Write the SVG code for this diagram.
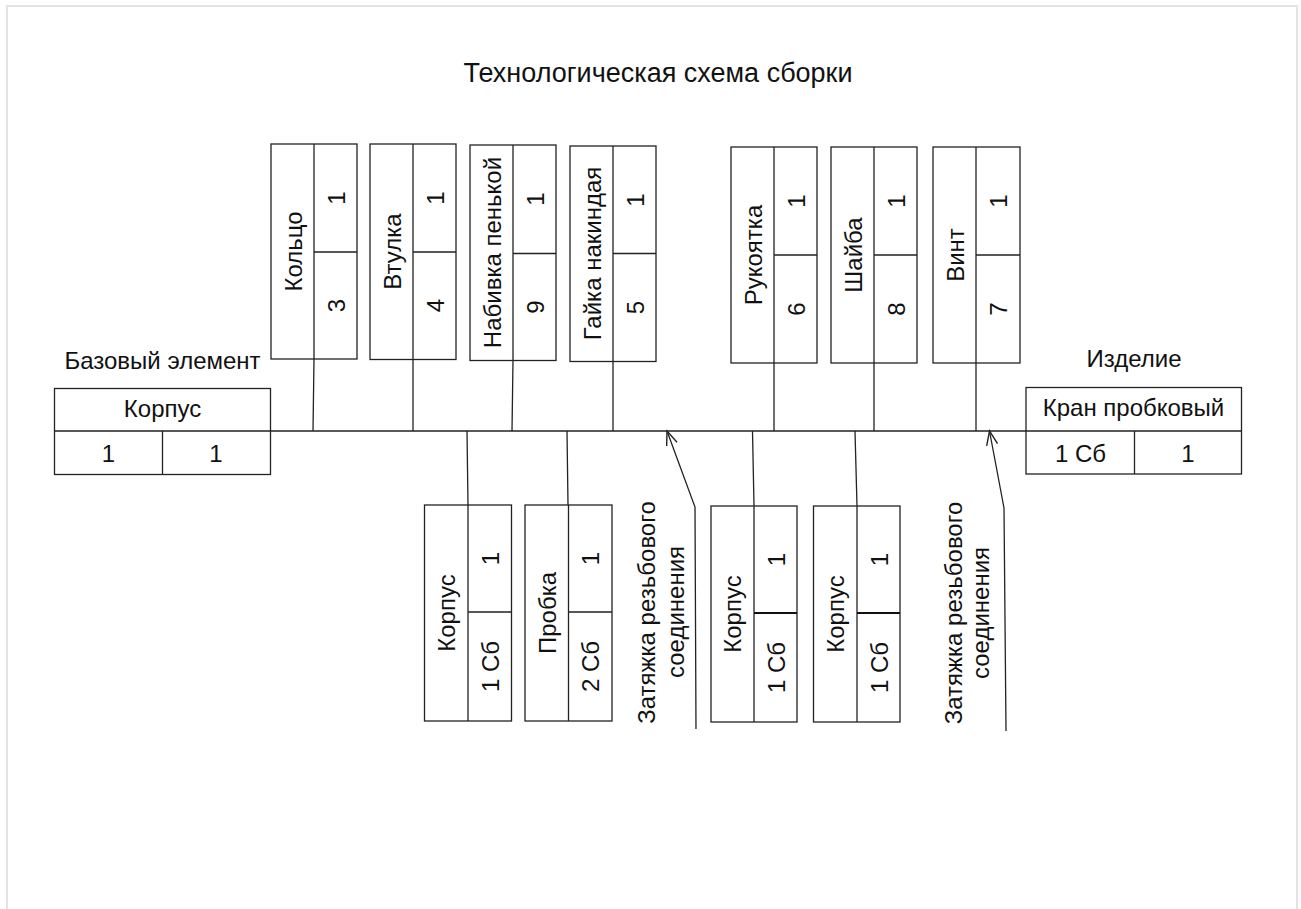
<svg xmlns="http://www.w3.org/2000/svg" width="1301" height="909" viewBox="0 0 1301 909">
<style>
.ln{stroke:#222;stroke-width:1.3;fill:none}
.thk{stroke:#111;stroke-width:2;fill:none}
.bx{stroke:#222;stroke-width:1.3;fill:#fff}
text{font-family:"Liberation Sans",Arial,sans-serif;font-size:24px;fill:#111}
.c{text-anchor:middle}
.title{font-size:27px}
</style>
<defs>
<marker id="open" markerWidth="20" markerHeight="20" refX="15" refY="8" orient="auto" markerUnits="userSpaceOnUse">
<path d="M1,2.5 L15,8 L1,13.5" fill="none" stroke="#222" stroke-width="1.4"/>
</marker>
</defs>
<rect width="1301" height="909" fill="#fff"/>
<rect x="7" y="6" width="1290" height="910" fill="none" stroke="#e4e4e4" stroke-width="2"/>
<text class="c title" x="658" y="81.5">Технологическая схема сборки</text>

<g id="base">
<text class="c" x="162.5" y="369">Базовый элемент</text>
<rect class="bx" x="54.5" y="388.5" width="216" height="86"/>
<path class="ln" d="M54.5,431 H270.5 M162.5,431 V474.5"/>
<text class="c" x="162.5" y="417">Корпус</text>
<text class="c" x="108.5" y="462">1</text>
<text class="c" x="216" y="462">1</text>
</g>

<g id="product">
<text class="c" x="1134" y="367">Изделие</text>
<rect class="bx" x="1026" y="387.5" width="215.5" height="86.5"/>
<path class="ln" d="M1026,431 H1241.5 M1134.5,431 V474"/>
<text class="c" x="1133.5" y="416">Кран пробковый</text>
<text class="c" x="1080.5" y="462">1 Сб</text>
<text class="c" x="1188" y="462">1</text>
</g>

<g id="connectors">
<path class="ln" d="M270.5,431 H1026"/>
<path class="ln" d="M314,359 L313,431 M413,359.5 V431 M513,360.5 L512,431 M613,361.5 V431 M774,363 V431 M874,363 V431 M976,363 V431"/>
<path class="ln" d="M467,431 L468,505 M567,431 L568,505 M752.5,431 L754,506 M855,431 L857,506"/>
<path class="ln" d="M696,729 L695,507 L667,431" marker-end="url(#open)"/>
<path class="ln" d="M1006,731 L1004,508 L989.5,431" marker-end="url(#open)"/>
</g>

<g id="n-kolco">
<rect class="bx" x="271" y="144" width="86" height="215"/>
<path class="ln" d="M314,144 V359 M314,252 H357"/>
<text class="c" transform="translate(301.5,251.5) rotate(-90)">Кольцо</text>
<text class="c" transform="translate(345,198) rotate(-90)">1</text>
<text class="c" transform="translate(345,305.5) rotate(-90)">3</text>
</g>
<g id="n-vtulka">
<rect class="bx" x="370" y="144" width="86" height="215.5"/>
<path class="ln" d="M413,144 V359.5 M413,252 H456"/>
<text class="c" transform="translate(400.5,251.5) rotate(-90)">Втулка</text>
<text class="c" transform="translate(444,198) rotate(-90)">1</text>
<text class="c" transform="translate(444,305.5) rotate(-90)">4</text>
</g>
<g id="n-nabivka">
<rect class="bx" x="470" y="145" width="86" height="215.5"/>
<path class="ln" d="M513,145 V360.5 M513,253.5 H556"/>
<text class="c" transform="translate(500.5,252.5) rotate(-90)">Набивка пенькой</text>
<text class="c" transform="translate(544,199) rotate(-90)">1</text>
<text class="c" transform="translate(544,307) rotate(-90)">9</text>
</g>
<g id="n-gaika">
<rect class="bx" x="570" y="146" width="86" height="215.5"/>
<path class="ln" d="M613,146 V361.5 M613,253.5 H656"/>
<text class="c" transform="translate(600.5,253.5) rotate(-90)">Гайка накиндая</text>
<text class="c" transform="translate(643.5,200) rotate(-90)">1</text>
<text class="c" transform="translate(643.5,307.5) rotate(-90)">5</text>
</g>
<g id="n-rukoyatka">
<rect class="bx" x="731" y="147" width="86" height="216"/>
<path class="ln" d="M774,147 V363 M774,255 H817"/>
<text class="c" transform="translate(761.5,255) rotate(-90)">Рукоятка</text>
<text class="c" transform="translate(805,201) rotate(-90)">1</text>
<text class="c" transform="translate(805,309) rotate(-90)">6</text>
</g>
<g id="n-shaiba">
<rect class="bx" x="831" y="147" width="86" height="216"/>
<path class="ln" d="M874,147 V363 M874,255 H917"/>
<text class="c" transform="translate(861.5,255) rotate(-90)">Шайба</text>
<text class="c" transform="translate(905,201) rotate(-90)">1</text>
<text class="c" transform="translate(905,309) rotate(-90)">8</text>
</g>
<g id="n-vint">
<rect class="bx" x="933" y="147" width="87" height="216"/>
<path class="ln" d="M976,147 V363 M976,255 H1020"/>
<text class="c" transform="translate(963.5,255) rotate(-90)">Винт</text>
<text class="c" transform="translate(1007,201) rotate(-90)">1</text>
<text class="c" transform="translate(1007,309) rotate(-90)">7</text>
</g>

<g id="n-korpus1">
<rect class="bx" x="424.5" y="505" width="87" height="216"/>
<path class="ln" d="M468,505 V721 M468,612 H511.5"/>
<text class="c" transform="translate(455,613) rotate(-90)">Корпус</text>
<text class="c" transform="translate(498.5,558.5) rotate(-90)">1</text>
<text class="c" transform="translate(498.5,666.5) rotate(-90)">1 Сб</text>
</g>
<g id="n-probka">
<rect class="bx" x="525" y="505" width="87" height="216"/>
<path class="ln" d="M568.5,505 V721 M568.5,612 H612"/>
<text class="c" transform="translate(555.5,613) rotate(-90)">Пробка</text>
<text class="c" transform="translate(599,558.5) rotate(-90)">1</text>
<text class="c" transform="translate(599,666.5) rotate(-90)">2 Сб</text>
</g>
<g id="n-korpus2">
<rect class="bx" x="711" y="506" width="86" height="216"/>
<path class="ln" d="M754,506 V722"/>
<path class="thk" d="M754,613 H797"/>
<text class="c" transform="translate(741,614) rotate(-90)">Корпус</text>
<text class="c" transform="translate(784.5,559.5) rotate(-90)">1</text>
<text class="c" transform="translate(784.5,667.5) rotate(-90)">1 Сб</text>
</g>
<g id="n-korpus3">
<rect class="bx" x="813.5" y="506" width="86.5" height="216"/>
<path class="ln" d="M857,506 V722"/>
<path class="thk" d="M857,613 H900"/>
<text class="c" transform="translate(844,614) rotate(-90)">Корпус</text>
<text class="c" transform="translate(887.5,559.5) rotate(-90)">1</text>
<text class="c" transform="translate(887.5,667.5) rotate(-90)">1 Сб</text>
</g>

<g id="op1">
<text class="c" transform="translate(655,612.5) rotate(-90)">Затяжка резьбового</text>
<text class="c" transform="translate(683.5,612) rotate(-90)">соединения</text>
</g>
<g id="op2">
<text class="c" transform="translate(962,613) rotate(-90)">Затяжка резьбового</text>
<text class="c" transform="translate(988.5,613) rotate(-90)">соединения</text>
</g>
</svg>
